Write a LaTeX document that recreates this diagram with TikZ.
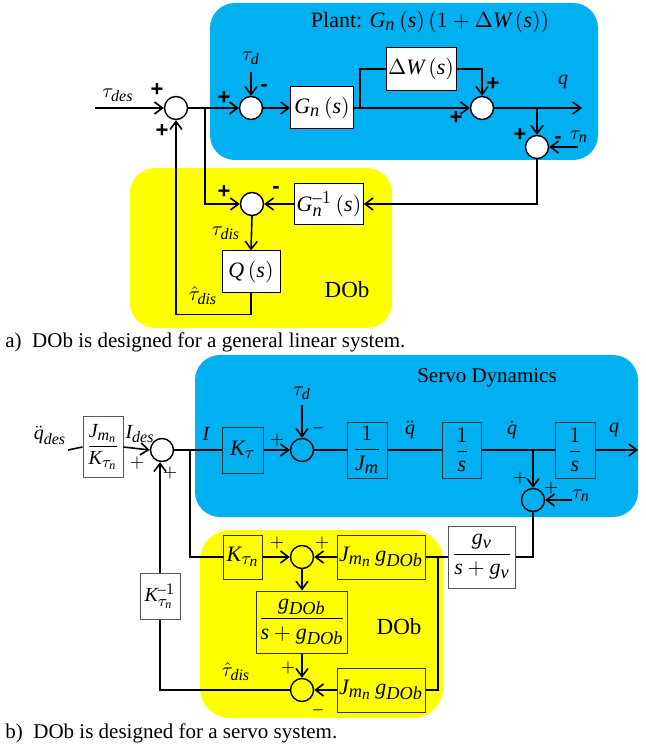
\documentclass[tikz,border=0pt]{standalone}
\usepackage{amsmath}
\usepackage{fontspec}
\setmainfont{Liberation Serif}
\setsansfont{Liberation Sans}
\usepackage[italic]{mathastext}
\usetikzlibrary{arrows.meta, positioning, calc}
\definecolor{PlantBlue}{RGB}{0, 176, 240}
\definecolor{DObYellow}{RGB}{255, 255, 0}
\definecolor{BoxGray}{RGB}{90, 90, 90}
\newcommand{\sgn}[1]{\textsf{\textbf{#1}}}

\begin{document}
\begin{tikzpicture}[
  x=0.5pt, y=-0.5pt,
  every node/.style={font=\fontsize{10}{12}\selectfont},
  region/.style={rounded corners=12.5pt},
  blk/.style={draw, fill=white, line width=0.5pt, inner sep=1pt, align=center,
              font=\fontsize{11}{13}\selectfont},
  blkb/.style={blk, draw=black!80, fill=PlantBlue},
  blky/.style={blk, draw=black!80, fill=DObYellow},
  blkg/.style={blk, draw=BoxGray},
  sumw/.style={circle, draw, line width=0.7pt, fill=white, minimum size=11.5pt, inner sep=0pt},
  sumo/.style={circle, draw, line width=0.7pt, minimum size=11.5pt, inner sep=0pt},
  arr/.style={-{Straight Barb[length=4pt, width=6pt]}, line width=0.8pt},
  ln/.style={line width=0.8pt},
  lbl/.style={inner sep=0pt},
  sign/.style={inner sep=0pt, font=\fontsize{9}{10}\selectfont},
  signa/.style={inner sep=0pt, font=\fontsize{11}{12}\selectfont}
]
  \useasboundingbox (0,0) rectangle (645,747);

  %% ---------- a) general linear system ----------
  \fill[PlantBlue, region] (210,3) rectangle (598,160);
  \fill[DObYellow, region] (130,168) rectangle (392,328);

  \node[lbl, font=\fontsize{11}{13}\selectfont] (plant) at (430,22) {Plant: $G_n\left(s\right)\left(1+\Delta W\left(s\right)\right)$};

  \node[sumw] (s1) at (176,108) {};
  \node[sumw] (s2) at (251,108) {};
  \node[sumw] (s3) at (482,108) {};
  \node[sumw] (s4) at (537,147) {};
  \node[sumw] (s5) at (252,204) {};

  \node[blk, minimum width=31.5pt, minimum height=21pt] (gn)   at (322,108) {$G_n\left(s\right)$};
  \node[blk, minimum width=35pt,   minimum height=21.5pt] (dw) at (421,69)  {$\Delta W\left(s\right)$};
  \node[blk, minimum width=32pt,   minimum height=20.5pt] (ginv) at (329,204) {$G_n^{-1}\left(s\right)$};
  \node[blk, minimum width=29pt,   minimum height=21pt] (qs)   at (251,272) {$Q\left(s\right)$};

  \coordinate (ain)  at (95,108);
  \coordinate (abr)  at (205,108);
  \coordinate (atd)  at (251,72);
  \coordinate (adw)  at (360,108);
  \coordinate (aout) at (582,108);
  \coordinate (aq)   at (537,108);
  \coordinate (atn)  at (578,147);

  \node[lbl] at (118,95) {$\tau_{des}$};
  \node[lbl] at (251,58) {$\tau_d$};
  \node[lbl] at (563,82) {$q$};
  \node[lbl] at (579,137) {$\tau_n$};
  \node[lbl] at (226,233) {$\tau_{dis}$};
  \node[lbl] at (203,296) {$\hat{\tau}_{dis}$};
  \node[lbl, font=\fontsize{11.5}{13}\selectfont] at (347,290) {DOb};

  \node[signa] at (157,90)  {\sgn{+}};
  \node[signa] at (162,131) {\sgn{+}};
  \node[signa] at (224,98)  {\sgn{+}};
  \node[signa] at (264,88)  {\sgn{-}};
  \node[signa] at (493,84)  {\sgn{+}};
  \node[signa] at (456,118) {\sgn{+}};
  \node[signa] at (520,135) {\sgn{+}};
  \node[signa] at (558,140) {\sgn{-}};
  \node[signa] at (224,192) {\sgn{+}};
  \node[signa] at (276,190) {\sgn{-}};

  \draw[arr] (ain) -- (s1.west);
  \draw[arr] (s1.east) -- (s2.west);
  \draw[arr] (atd) -- (s2.north);
  \draw[arr] (s2.east) -- (gn.west);
  \draw[arr] (gn.east) -- (s3.west);
  \draw[ln] (adw) |- (dw.west);
  \draw[arr] (dw.east) -| (s3.north);
  \draw[arr] (s3.east) -- (aout);
  \draw[arr] (aq) -- (s4.north);
  \draw[arr] (atn) -- (s4.east);
  \draw[arr] (s4.south) |- (ginv.east);
  \draw[arr] (ginv.west) -- (s5.east);
  \draw[arr] (abr) |- (s5.west);
  \draw[arr] (s5.south) -- (qs.north);
  \draw[arr] (qs.south) -- ++(0,21) -| (s1.south);

  \node[lbl, anchor=west, font=\fontsize{10.5}{12}\selectfont] (capa) at (5,342) {a)\enspace DOb is designed for a general linear system.};

  %% ---------- b) servo system ----------
  \fill[PlantBlue, region] (195,355) rectangle (638,517);
  \fill[DObYellow, rounded corners=15pt] (200,530) rectangle (443,718);

  \node[lbl, font=\fontsize{10.5}{12}\selectfont] (servo) at (487,378) {Servo Dynamics};

  \node[sumo] (b1) at (162,450) {};
  \node[sumo] (b2) at (302,450) {};
  \node[sumo] (b3) at (533,500) {};
  \node[sumo] (b4) at (302,557) {};
  \node[sumo] (b5) at (302,690) {};

  \node[blkg, minimum width=20pt, minimum height=30.5pt, font=\fontsize{10}{12}\selectfont] (jk) at (103,447) {$\dfrac{J_{m_n}}{K_{\tau_n}}$};
  \node[blkb, minimum width=20.5pt, minimum height=23pt] (kt)   at (243,450) {$K_\tau$};
  \node[blkb, minimum width=20pt, minimum height=28pt]   (jm)   at (367,450) {$\dfrac{1}{J_m}$};
  \node[blkb, minimum width=19.5pt, minimum height=28pt] (int1) at (462,450) {$\dfrac{1}{s}$};
  \node[blkb, minimum width=20pt, minimum height=28pt]   (int2) at (575,450) {$\dfrac{1}{s}$};
  \node[blkg, minimum width=33.5pt, minimum height=31pt] (gv)   at (482,557) {$\dfrac{g_v}{s+g_v}$};
  \node[blky, minimum width=19.5pt, minimum height=22pt] (kn)   at (243,557) {$K_{\tau_n}$};
  \node[blky, minimum width=39pt, minimum height=22pt]   (jgt)  at (381,557) {$J_{m_n}\,g_{DOb}$};
  \node[blky, minimum width=45pt, minimum height=31pt]   (gd)   at (302,622) {$\dfrac{g_{DOb}}{s+g_{DOb}}$};
  \node[blky, minimum width=39pt, minimum height=22pt]   (jgb)  at (381,690) {$J_{m_n}\,g_{DOb}$};
  \node[blkg, minimum width=20pt, minimum height=23pt, font=\fontsize{10}{12}\selectfont] (kinv) at (160,596) {$K_{\tau_n}^{-1}$};

  \coordinate (bin)  at (68,450);
  \coordinate (bbr)  at (190,450);
  \coordinate (btd)  at (302,405);
  \coordinate (bqd)  at (533,450);
  \coordinate (bout) at (638,450);
  \coordinate (btn)  at (572,500);
  \coordinate (bj)   at (438,557);

  \node[lbl] at (50,435)  {$\ddot{q}_{des}$};
  \node[lbl] at (140,434) {$I_{des}$};
  \node[lbl] at (206,434) {$I$};
  \node[lbl] at (302,393) {$\tau_d$};
  \node[lbl] at (410,430) {$\ddot{q}$};
  \node[lbl] at (512,430) {$\dot{q}$};
  \node[lbl] at (614,430) {$q$};
  \node[lbl] at (581,496) {$\tau_n$};
  \node[lbl] at (236,672) {$\hat{\tau}_{dis}$};
  \node[lbl, font=\fontsize{11.5}{13}\selectfont] at (399,627) {DOb};

  \node[sign] at (137,463) {$+$};
  \node[sign] at (170,473) {$+$};
  \node[sign] at (277,440) {$+$};
  \node[sign] at (318,430) {$-$};
  \node[sign] at (520,478) {$+$};
  \node[sign] at (551,488) {$+$};
  \node[sign] at (277,543) {$+$};
  \node[sign] at (322,543) {$+$};
  \node[sign] at (288,668) {$+$};
  \node[sign] at (318,712) {$-$};

  \draw[ln] (bin) -- (jk.west);
  \draw[arr] (jk.east) -- (b1.west);
  \draw[ln] (b1.east) -- (kt.west);
  \draw[arr] (kt.east) -- (b2.west);
  \draw[arr] (btd) -- (b2.north);
  \draw[ln] (b2.east) -- (jm.west);
  \draw[ln] (jm.east) -- (int1.west);
  \draw[ln] (int1.east) -- (int2.west);
  \draw[arr] (int2.east) -- (bout);
  \draw[arr] (bqd) -- (b3.north);
  \draw[arr] (btn) -- (b3.east);
  \draw[ln] (b3.south) |- (gv.east);
  \draw[ln] (gv.west) -- (jgt.east);
  \draw[ln] (bj) |- (jgb.east);
  \draw[ln] (bbr) |- (kn.west);
  \draw[arr] (kn.east) -- (b4.west);
  \draw[arr] (jgt.west) -- (b4.east);
  \draw[arr] (b4.south) -- (gd.north);
  \draw[arr] (gd.south) -- (b5.north);
  \draw[arr] (jgb.west) -- (b5.east);
  \draw[ln] (b5.west) -| (kinv.south);
  \draw[arr] (kinv.north) -- (kinv.north |- b1.south);

  \node[lbl, anchor=west, font=\fontsize{10.5}{12}\selectfont] (capb) at (5,733) {b)\enspace DOb is designed for a servo system.};
\end{tikzpicture}
\end{document}
